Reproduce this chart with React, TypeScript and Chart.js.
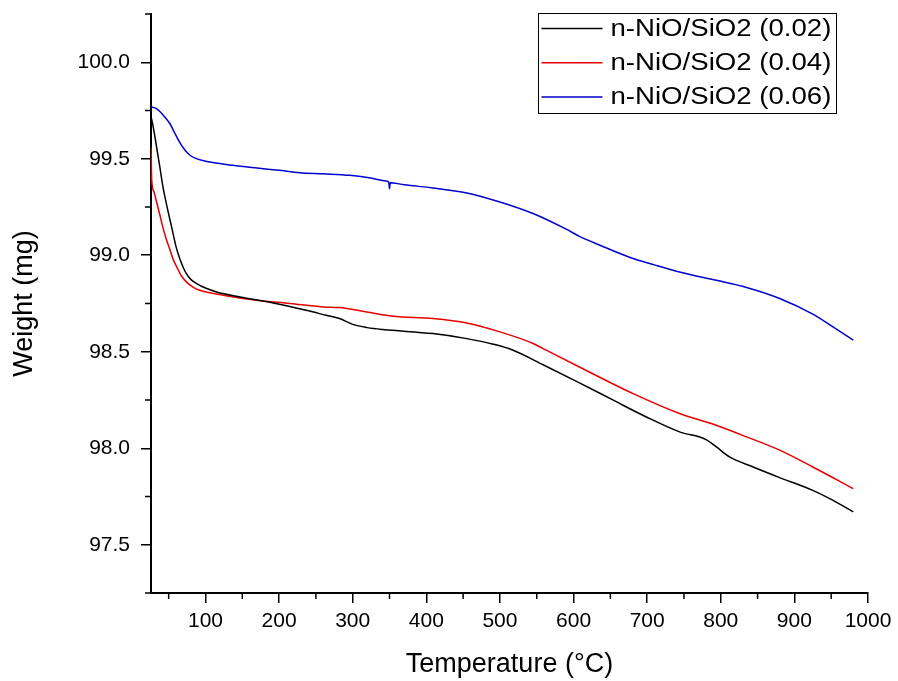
import React, { useEffect, useRef } from "react";
import { Chart, registerables } from "chart.js";

Chart.register(...registerables);

const seriesLabels = ["n-NiO/SiO2 (0.02)", "n-NiO/SiO2 (0.04)", "n-NiO/SiO2 (0.06)"];
const seriesColors = ["#000000", "#e60000", "#0000cc"];

const temp002 = [26, 29, 33, 38, 42, 47, 52, 56, 60, 65, 70, 74, 80, 88, 100, 115, 147, 192, 237, 264, 282, 300, 320, 341, 409, 455, 491, 518, 560, 608, 654, 699, 744, 780, 794, 812, 844, 880, 925, 952, 980];
const weight002 = [99.72, 99.665, 99.575, 99.458, 99.36, 99.265, 99.18, 99.112, 99.045, 98.983, 98.935, 98.905, 98.875, 98.853, 98.83, 98.81, 98.784, 98.753, 98.715, 98.689, 98.672, 98.642, 98.625, 98.615, 98.594, 98.568, 98.539, 98.508, 98.43, 98.339, 98.249, 98.162, 98.085, 98.045, 98.007, 97.955, 97.903, 97.848, 97.782, 97.731, 97.67];

const temp004 = [26, 27, 30, 33, 38, 42, 47, 52, 56, 61, 67, 74, 83, 92, 124, 169, 215, 260, 282, 319, 355, 409, 455, 500, 545, 563, 608, 681, 744, 790, 835, 880, 925, 980];
const weight004 = [99.56, 99.39, 99.33, 99.285, 99.21, 99.147, 99.08, 99.026, 98.98, 98.94, 98.895, 98.862, 98.835, 98.819, 98.793, 98.767, 98.75, 98.732, 98.729, 98.706, 98.684, 98.672, 98.649, 98.603, 98.543, 98.508, 98.421, 98.283, 98.18, 98.124, 98.059, 97.99, 97.903, 97.791];

const temp006 = [26, 32, 38, 45, 52, 58, 65, 72, 79, 86, 95, 110, 137, 170, 200, 228, 260, 296, 320, 345, 349, 350, 351, 370, 409, 455, 500, 545, 590, 608, 636, 676, 710, 744, 794, 835, 880, 925, 952, 980];
const weight006 = [99.768, 99.762, 99.745, 99.715, 99.68, 99.635, 99.585, 99.545, 99.518, 99.503, 99.492, 99.48, 99.466, 99.452, 99.44, 99.428, 99.422, 99.414, 99.403, 99.385, 99.378, 99.345, 99.376, 99.365, 99.349, 99.323, 99.276, 99.216, 99.135, 99.098, 99.052, 98.99, 98.95, 98.913, 98.87, 98.833, 98.776, 98.695, 98.63, 98.56];

const xMajorTicks = [100, 200, 300, 400, 500, 600, 700, 800, 900, 1000];
const xMinorTicks = [50, 150, 250, 350, 450, 550, 650, 750, 850, 950];
const yMajorTicks = [97.5, 98.0, 98.5, 99.0, 99.5, 100.0];
const yMinorTicks = [97.25, 97.75, 98.25, 98.75, 99.25, 99.75, 100.25];

const xTitle = "Temperature (°C)";
const yTitle = "Weight (mg)";

const FONT = "'Liberation Sans', Arial, sans-serif";

const decorPlugin = {
  id: "decor",
  afterDraw(chart: any) {
    const ctx = chart.ctx as CanvasRenderingContext2D;
    const xs = chart.scales.x;
    const ys = chart.scales.y;
    const area = chart.chartArea;
    ctx.save();
    // minor ticks
    ctx.strokeStyle = "#000";
    ctx.lineWidth = 1.5;
    ctx.beginPath();
    xMinorTicks.forEach((v) => {
      const px = xs.getPixelForValue(v);
      ctx.moveTo(px, area.bottom);
      ctx.lineTo(px, area.bottom + 6);
    });
    yMinorTicks.forEach((v) => {
      const py = ys.getPixelForValue(v);
      ctx.moveTo(area.left - 6, py);
      ctx.lineTo(area.left, py);
    });
    ctx.stroke();

    // legend
    const boxLeft = area.right - 329.5;
    const boxTop = area.top - 0.5;
    const boxW = 298;
    const boxH = 100;
    ctx.lineWidth = 1;
    ctx.strokeStyle = "#000";
    ctx.strokeRect(boxLeft, boxTop, boxW, boxH);
    chart.data.datasets.forEach((ds: any, i: number) => {
      const rowY = boxTop + 15 + i * 34.2;
      ctx.beginPath();
      ctx.strokeStyle = ds.borderColor;
      ctx.lineWidth = 1.5;
      ctx.moveTo(boxLeft + 3, rowY);
      ctx.lineTo(boxLeft + 64, rowY);
      ctx.stroke();
      ctx.save();
      ctx.fillStyle = "#000";
      ctx.font = `23px ${FONT}`;
      ctx.textBaseline = "middle";
      ctx.textAlign = "left";
      ctx.translate(boxLeft + 72, rowY + 1);
      ctx.scale(1.2, 1);
      ctx.fillText(ds.label, 0, 0);
      ctx.restore();
    });
    ctx.restore();
  },
};

export default function App() {
  const canvasRef = useRef<HTMLCanvasElement | null>(null);

  useEffect(() => {
    const canvas = canvasRef.current;
    if (!canvas) return;
    const temps = [temp002, temp004, temp006];
    const weights = [weight002, weight004, weight006];
    const datasets = seriesLabels.map((label, i) => ({
      label,
      data: temps[i].map((t, j) => ({ x: t, y: weights[i][j] })),
      borderColor: seriesColors[i],
      backgroundColor: seriesColors[i],
      borderWidth: 1.5,
      pointRadius: 0,
      cubicInterpolationMode: "monotone" as const,
      fill: false,
    }));

    const chart = new Chart(canvas, {
      type: "line",
      data: { datasets },
      options: {
        responsive: false,
        animation: false,
        events: [],
        layout: { padding: { top: 14, right: 30, left: 0, bottom: 0 } },
        plugins: {
          legend: { display: false },
          tooltip: { enabled: false },
          title: { display: false },
        },
        scales: {
          x: {
            type: "linear",
            min: 26,
            max: 1000,
            afterBuildTicks: (scale: any) => {
              scale.ticks = xMajorTicks.map((v) => ({ value: v }));
            },
            afterFit: (scale: any) => {
              scale.height = 88;
              scale.paddingLeft = 0;
              scale.paddingRight = 0;
            },
            ticks: {
              color: "#000",
              font: { family: FONT, size: 21 },
              padding: 6,
              maxRotation: 0,
              autoSkip: false,
              callback: (v: any) => String(v),
            },
            grid: {
              display: true,
              drawOnChartArea: false,
              drawTicks: true,
              tickLength: 10,
              color: "#000",
              lineWidth: 1.5,
            },
            border: { display: true, color: "#000", width: 2 },
            title: {
              display: true,
              text: xTitle,
              color: "#000",
              font: { family: FONT, size: 27 },
              padding: { top: 0, bottom: 0 },
            },
          },
          y: {
            type: "linear",
            min: 97.25,
            max: 100.25,
            afterBuildTicks: (scale: any) => {
              scale.ticks = yMajorTicks.map((v) => ({ value: v }));
            },
            afterFit: (scale: any) => {
              scale.width = 151;
              scale.paddingTop = 0;
              scale.paddingBottom = 0;
            },
            ticks: {
              color: "#000",
              font: { family: FONT, size: 21 },
              padding: 11,
              autoSkip: false,
              callback: (v: any) => Number(v).toFixed(1),
            },
            grid: {
              display: true,
              drawOnChartArea: false,
              drawTicks: true,
              tickLength: 10,
              color: "#000",
              lineWidth: 1.5,
            },
            border: { display: true, color: "#000", width: 2 },
            title: {
              display: true,
              text: yTitle,
              color: "#000",
              font: { family: FONT, size: 27 },
              padding: { top: 8, bottom: 0 },
            },
          },
        },
      },
      plugins: [decorPlugin],
    });

    return () => {
      chart.destroy();
    };
  }, []);

  return (
    <div style={{ position: "absolute", left: 0, top: 0, width: 898, height: 681, background: "#fff" }}>
      <canvas ref={canvasRef} width={898} height={681} style={{ display: "block" }} />
    </div>
  );
}
